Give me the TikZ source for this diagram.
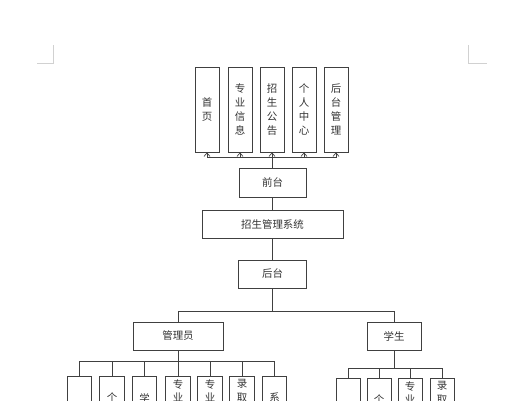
\documentclass[tikz,border=0pt]{standalone}
\usepackage{fontspec}
\newfontfamily\cjk{Noto Sans CJK SC}
\usetikzlibrary{arrows.meta}
\tikzset{
  ln/.style={draw=black!75, line width=0.7bp},
  bx/.style={ln, rectangle, inner sep=0pt, text=black!80, font=\cjk\fontsize{10.5}{14}\selectfont, align=center},
  vbox/.style={bx, minimum width=24bp, minimum height=85bp},
  hbox/.style={bx, minimum height=28bp},
  upar/.style={ln, -{Straight Barb[length=3.5bp,width=6bp,line width=0.7bp]}}
}
\begin{document}
\begin{tikzpicture}[x=1bp,y=-1bp]
\useasboundingbox (0,0) rectangle (506,400);
\clip (0,0) rectangle (506,400);
% page corner marks
\draw[draw=black!18, line width=0.6bp] (53,45) -- (53,63) -- (37,63);
\draw[draw=black!18, line width=0.6bp] (468,45) -- (468,63) -- (487,63);
% top row
\node[vbox] (t1) at (207,109.5) {首\\页};
\node[vbox] (t2) at (240,109.5) {专\\业\\信\\息};
\node[vbox] (t3) at (272,109.5) {招\\生\\公\\告};
\node[vbox] (t4) at (304,109.5) {个\\人\\中\\心};
\node[vbox] (t5) at (336,109.5) {后\\台\\管\\理};
\node[hbox, minimum width=67bp, minimum height=29bp] (qt) at (272.5,182.5) {前台};
\node[hbox, minimum width=141bp] (sys) at (272.5,224) {招生管理系统};
\node[hbox, minimum width=68bp] (ht) at (272.5,274) {后台};
\node[hbox, minimum width=90bp] (adm) at (178,336) {管理员};
\node[hbox, minimum width=54bp] (stu) at (394,336) {学生};
% admin children (only the part inside the picture shows)
\node[vbox, minimum width=24.5bp] (a1) at (79.5,418.5) {};
\node[vbox, minimum width=24.5bp] (a2) at (112,418.5) {个\\~\\~\\~};
\node[vbox, minimum width=24.5bp] (a3) at (144.5,418.5) {学\\~\\~\\~};
\node[vbox, minimum width=24.5bp] (a4) at (178,418.5) {专\\业\\~\\~\\~\\~};
\node[vbox, minimum width=24.5bp] (a5) at (210,418.5) {专\\业\\~\\~\\~\\~};
\node[vbox, minimum width=24.5bp] (a6) at (242,418.5) {录\\取\\~\\~\\~\\~};
\node[vbox, minimum width=24.5bp] (a7) at (274.5,418.5) {系\\~\\~\\~};
% student children
\node[vbox] (s1) at (348,420.5) {};
\node[vbox] (s2) at (379,420.5) {个\\~\\~\\~};
\node[vbox] (s3) at (410,420.5) {专\\业\\~\\~\\~\\~};
\node[vbox] (s4) at (442,420.5) {录\\取\\~\\~\\~\\~};
% buses
\coordinate (tbus) at (0,157.5);
\coordinate (abus) at (0,311);
\coordinate (kbus) at (0,361);
\coordinate (sbus) at (0,368);
% top connectors
\draw[ln] (qt.north) -- (qt.north |- tbus);
\draw[ln] (t1.south |- tbus) -- (t5.south |- tbus);
\foreach \n in {t1,t2,t3,t4,t5} \draw[upar] (\n.south |- tbus) -- (\n.south);
% centre column
\draw[ln] (qt.south) -- (sys.north);
\draw[ln] (sys.south) -- (ht.north);
\draw[ln] (ht.south) -- (ht.south |- abus);
\draw[ln] (adm.north |- abus) -- (stu.north |- abus);
\draw[ln] (adm.north |- abus) -- (adm.north);
\draw[ln] (stu.north |- abus) -- (stu.north);
% admin children connectors
\draw[ln] (adm.south) -- (adm.south |- kbus);
\draw[ln] (a1.north |- kbus) -- (a7.north |- kbus);
\foreach \n in {a1,a2,a3,a4,a5,a6,a7} \draw[ln] (\n.north |- kbus) -- (\n.north);
% student children connectors
\draw[ln] (stu.south) -- (stu.south |- sbus);
\draw[ln] (s1.north |- sbus) -- (s4.north |- sbus);
\foreach \n in {s1,s2,s3,s4} \draw[ln] (\n.north |- sbus) -- (\n.north);
\end{tikzpicture}
\end{document}
